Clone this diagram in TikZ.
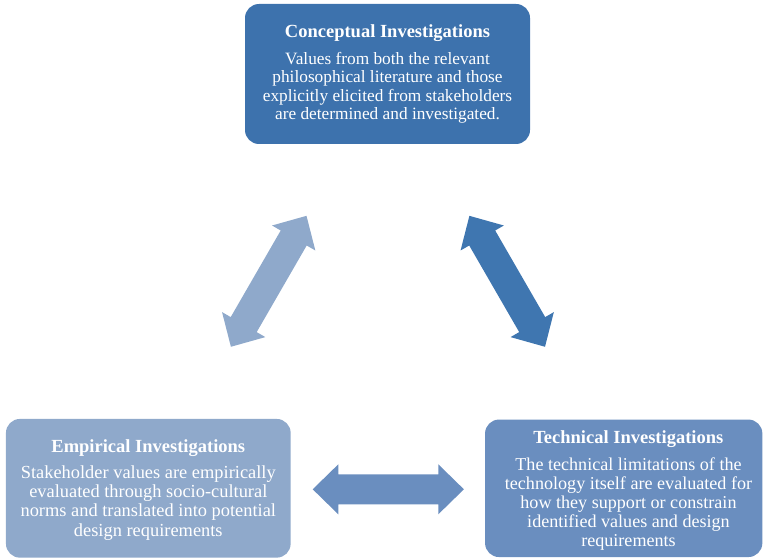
\documentclass[tikz,border=0pt]{standalone}
\usepackage{fontspec}
\setmainfont{Liberation Serif}
\definecolor{cdark}{HTML}{3D72AD}
\definecolor{carrowdark}{HTML}{3F76B0}
\definecolor{cmid}{HTML}{6A8EBF}
\definecolor{clight}{HTML}{8FA9CB}
\tikzset{
  box/.style={rounded corners=14pt, inner sep=0pt, draw=none},
  title/.style={anchor=base, inner sep=0pt, text=white, font=\fontsize{18.5}{20}\selectfont\bfseries},
  body/.style={anchor=base, inner sep=0pt, text=white},
  dblarrow/.pic={
    \fill[pic actions] (-75.6,0) -- (-50,25) -- (-50,15) -- (50,15) -- (50,25)
      -- (75.6,0) -- (50,-25) -- (50,-15) -- (-50,-15) -- (-50,-25) -- cycle;
  }
}
\newcommand{\bodytext}[3]{\parbox[t]{300pt}{\centering\fontsize{#1}{#2}\selectfont #3}}
\begin{document}
\begin{tikzpicture}[x=1pt,y=-1pt]
\useasboundingbox (0,0) rectangle (763,559);

% boxes
\node[box, fill=cdark, minimum width=285pt, minimum height=140pt] (concept) at (387.5,74) {};
\node[box, fill=clight, minimum width=284.7pt, minimum height=138.7pt] (empir) at (148.3,488.3) {};
\node[box, fill=cmid, minimum width=277.3pt, minimum height=137.5pt] (techn) at (623.7,488.3) {};

% texts
\node[title] (concepttitle) at (387.5,37.3) {Conceptual Investigations};
\node[body] (conceptbody) at (387.5,64.3) {\bodytext{17.3}{18.5}{Values from both the relevant\\
philosophical literature and those\\
explicitly elicited from stakeholders\\
are determined and investigated.}};

\node[title] (empirtitle) at (148.3,452.7) {Empirical Investigations};
\node[body] (empirbody) at (148.3,478.3) {\bodytext{18.4}{19.3}{Stakeholder values are empirically\\
evaluated through socio-cultural\\
norms and translated into potential\\
design requirements}};

\node[title] (techntitle) at (628.3,443.7) {Technical Investigations};
\node[body] (technbody) at (628.5,470.7) {\bodytext{18.1}{19}{The technical limitations of the\\
technology itself are evaluated for\\
how they support or constrain\\
identified values and design\\
requirements}};

% arrows
\pic[fill=clight, rotate=60] at (268.7,281.3) {dblarrow};
\pic[fill=carrowdark, rotate=-60] at (507.2,281.3) {dblarrow};
\pic[fill=cmid] at (388.3,489.3) {dblarrow};
\end{tikzpicture}
\end{document}
